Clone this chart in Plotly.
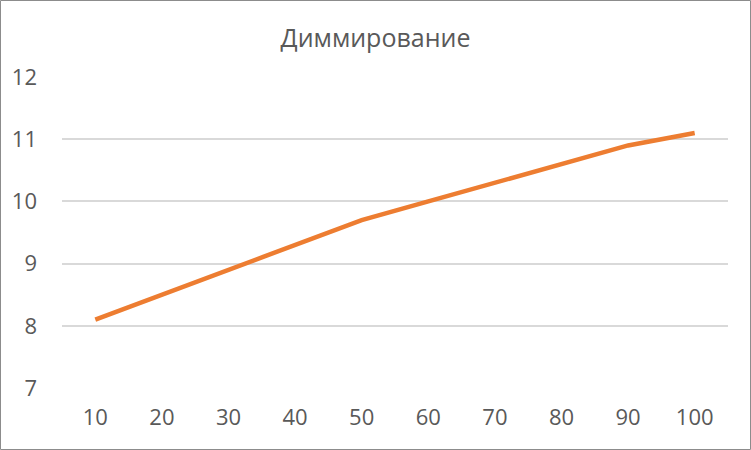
import plotly.graph_objects as go

# данные
categories = ["10", "20", "30", "40", "50", "60", "70", "80", "90", "100"]
values = [8.1, 8.5, 8.9, 9.3, 9.7, 10.0, 10.3, 10.6, 10.9, 11.1]
y_ticks = [7, 8, 9, 10, 11, 12]

W, H = 751, 450
ml, mr, mt, mb = 62, 23, 77, 62
pw, ph = W - ml - mr, H - mt - mb

fig = go.Figure()
fig.add_trace(go.Scatter(
    x=categories, y=values,
    mode="lines",
    line=dict(color="#ED7D31", width=4.5),
    showlegend=False,
    hoverinfo="x+y",
))

# рамка вокруг диаграммы
fig.add_shape(
    type="rect", xref="paper", yref="paper",
    x0=-(ml - 0.5) / pw, x1=1 + (mr - 0.5) / pw,
    y0=-(mb - 0.5) / ph, y1=1 + (mt - 0.5) / ph,
    line=dict(color="#8C8C8C", width=1),
)

fig.update_layout(
    width=W, height=H,
    margin=dict(l=ml, r=mr, t=mt, b=mb),
    paper_bgcolor="white", plot_bgcolor="white",
    font=dict(family="Open Sans, Liberation Sans, sans-serif", color="#595959", size=22),
    title=dict(
        text="Диммирование", x=0.5, xanchor="center",
        y=1 - 38 / H, yanchor="middle",
        font=dict(size=25, color="#595959"),
    ),
    xaxis=dict(
        type="category", range=[-0.5, 9.5],
        showgrid=False, showline=False, zeroline=False,
        ticks="", tickfont=dict(size=22), ticklabelstandoff=14,
    ),
    yaxis=dict(
        range=[7, 12], tickvals=y_ticks,
        showgrid=True, gridcolor="#D9D9D9", gridwidth=1.5,
        zeroline=False, showline=False, ticks="",
        tickfont=dict(size=22), ticklabelstandoff=24,
    ),
)

fig.write_html(
    "out.html",
    config={"displayModeBar": False},
    post_script="document.body.style.margin='0';",
)
